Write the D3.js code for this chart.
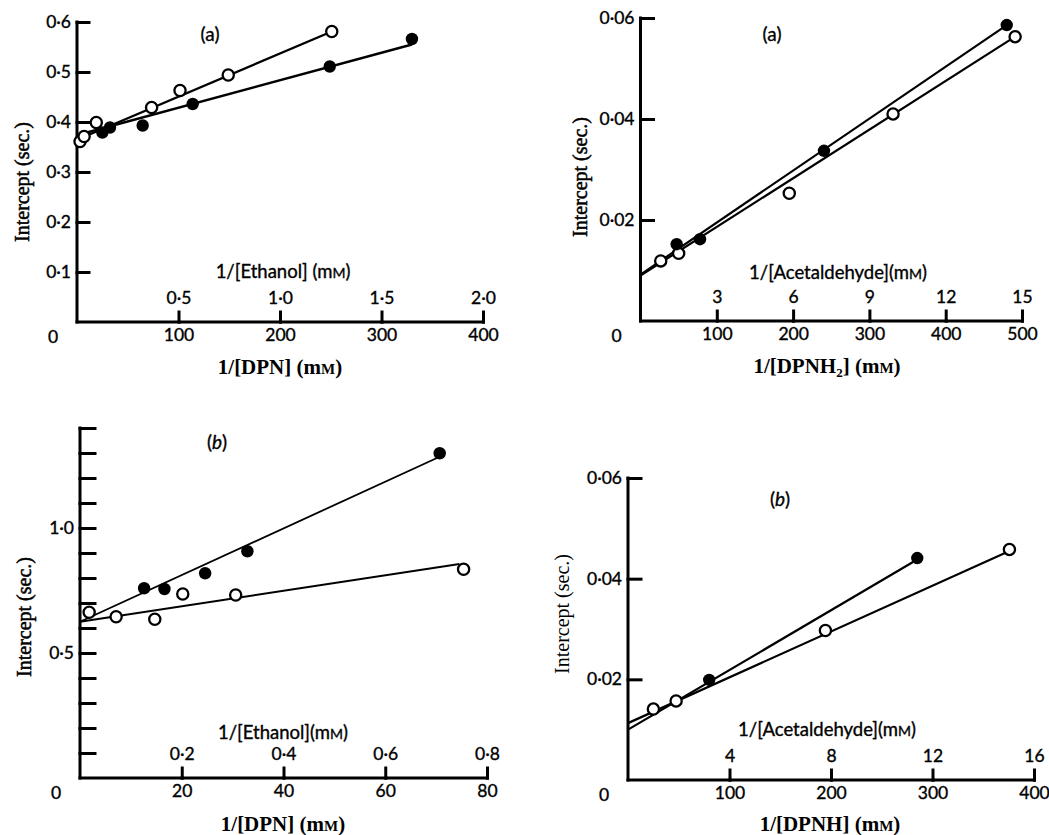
<!DOCTYPE html>
<html>
<head>
<meta charset="utf-8">
<script src="https://cdn.jsdelivr.net/npm/d3@7"></script>
<style>
  html, body { margin: 0; padding: 0; background: #fff; }
  svg { display: block; }
  .sans { font-family: Lato, "Open Sans", "DejaVu Sans", sans-serif; stroke: #000; stroke-width: 0.35px; }
  .serif { font-family: "Liberation Serif", "DejaVu Serif", serif; }
</style>
</head>
<body>
<div id="chart"></div>
<script>
// Panel (a) left: 1/[DPN] vs intercept, ethanol series
const p1Open = [[3,0.361],[7,0.371],[19,0.399],[73.5,0.429],[101.5,0.463],[149,0.494],[251,0.581]];
const p1Filled = [[25,0.379],[32.5,0.389],[64.7,0.393],[114,0.436],[249,0.511],[330,0.566]];
const p1OpenLine = [[3,0.367],[251,0.581]];
const p1FilledLine = [[8,0.378],[330,0.555]];

// Panel (a) right: 1/[DPNH2]
const p2Open = [[26.5,0.0119],[50,0.0134],[195,0.0253],[331,0.0410],[491,0.0563]];
const p2Filled = [[47.4,0.0152],[78,0.0162],[240.5,0.0337],[480,0.0586]];
const p2OpenLine = [[0,0.0090],[491,0.0563]];
const p2FilledLine = [[0,0.0092],[480,0.0586]];

// Panel (b) left: 1/[DPN]
const p3Open = [[1.8,0.663],[7.1,0.645],[14.7,0.635],[20.2,0.736],[30.6,0.732],[75.4,0.835]];
const p3Filled = [[12.6,0.759],[16.6,0.756],[24.6,0.819],[32.9,0.907],[70.7,1.299]];
const p3OpenLine = [[0,0.625],[74.6,0.856]];
const p3FilledLine = [[0,0.625],[70.7,1.285]];

// Panel (b) right: 1/[DPNH]
const p4Open = [[25,0.0141],[47.4,0.0157],[194.5,0.0297],[375.8,0.0458]];
const p4Filled = [[80,0.0199],[285,0.0441]];
const p4OpenLine = [[0,0.0113],[375.8,0.0455]];
const p4FilledLine = [[0,0.0100],[285,0.0438]];

// tick values
const p1YTicks = [0.1,0.2,0.3,0.4,0.5,0.6];
const p1XTicks = [100,200,300,400];
const p1TopTicks = [0.5,1.0,1.5,2.0];
const p2YTicks = [0.02,0.04,0.06];
const p2XTicks = [100,200,300,400,500];
const p2TopTicks = [3,6,9,12,15];
const p3YTicks = d3.range(1,15).map(i => i / 10);
const p3YLabels = [0.5,1.0];
const p3XTicks = [20,40,60,80];
const p3TopTicks = [0.2,0.4,0.6,0.8];
const p4YTicks = [0.02,0.04,0.06];
const p4XTicks = [100,200,300,400];
const p4TopTicks = [4,8,12,16];

const W = 1049, H = 835;
const svg = d3.select('#chart').append('svg').attr('width', W).attr('height', H);

const dot = s => s.replace('.', '·');

function drawPanel(cfg) {
  const x = d3.scaleLinear().domain(cfg.xDomain).range(cfg.xRange);
  const x2 = d3.scaleLinear().domain(cfg.topDomain).range(cfg.xRange);
  const y = d3.scaleLinear().domain(cfg.yDomain).range(cfg.yRange);
  const g = svg.append('g');
  const base = y(0), left = x(0);

  // y axis (ticks point inward)
  const yAxis = d3.axisLeft(y).tickValues(cfg.yTicks).tickSizeInner(-cfg.yTickLen).tickSizeOuter(0).tickPadding(6)
    .tickFormat(v => (!cfg.yLabels || cfg.yLabels.some(l => Math.abs(l - v) < 1e-9)) ? dot(d3.format(cfg.yFmt)(v)) : '');
  const ya = g.append('g').attr('transform', `translate(${left},0)`).call(yAxis);
  ya.select('.domain').attr('d', `M0,${y(cfg.yDomain[1])}V${base}`);

  // x axis (ticks point up, labels below)
  const xAxis = d3.axisBottom(x).tickValues(cfg.xTicks).tickSizeInner(-10).tickSizeOuter(0).tickPadding(7)
    .tickFormat(d3.format('d'));
  const xa = g.append('g').attr('transform', `translate(0,${base})`).call(xAxis);
  xa.select('.domain').attr('d', `M${left},0H${x(cfg.xDomain[1])}`);

  // secondary labels above the same ticks
  const tAxis = d3.axisTop(x2).tickValues(cfg.topTicks).tickSize(0).tickPadding(18)
    .tickFormat(v => dot(d3.format(cfg.topFmt)(v)));
  const ta = g.append('g').attr('transform', `translate(0,${base})`).call(tAxis);
  ta.select('.domain').remove();

  [ya, xa, ta].forEach(a => {
    a.selectAll('.domain, .tick line').attr('stroke', '#000').attr('stroke-width', 3).attr('stroke-linecap', 'square');
    a.selectAll('text').attr('class', 'sans').attr('font-size', 17.5).attr('fill', '#000');
  });

  // origin "0"
  g.append('text').attr('class', 'sans').attr('font-size', 17.5)
    .attr('x', left - 24).attr('y', base + 21).attr('text-anchor', 'middle').text('0');

  // fitted lines
  const line = d3.line().x(d => x(d[0])).y(d => y(d[1]));
  [cfg.openLine, cfg.filledLine].forEach(l => {
    g.append('path').attr('d', line(l)).attr('fill', 'none')
      .attr('stroke', '#000').attr('stroke-width', cfg.lineW);
  });

  // points
  g.selectAll('circle.open').data(cfg.open).join('circle').attr('class', 'open')
    .attr('cx', d => x(d[0])).attr('cy', d => y(d[1])).attr('r', 5.6)
    .attr('fill', '#fff').attr('stroke', '#000').attr('stroke-width', 2.3);
  g.selectAll('circle.filled').data(cfg.filled).join('circle').attr('class', 'filled')
    .attr('cx', d => x(d[0])).attr('cy', d => y(d[1])).attr('r', 6.2)
    .attr('fill', '#000');

  // panel letter
  const pl = g.append('text').attr('class', 'sans').attr('font-size', 19)
    .attr('x', cfg.tag[0]).attr('y', cfg.tag[1]).attr('text-anchor', 'middle');
  pl.append('tspan').text('(');
  pl.append('tspan').attr('font-style', cfg.tagItalic ? 'italic' : 'normal').text(cfg.tagText);
  pl.append('tspan').text(')');

  // y label
  g.append('text').attr('class', 'serif').attr('font-size', 20)
    .attr('stroke', '#000').attr('stroke-width', cfg.yLabelStroke)
    .attr('transform', `translate(${cfg.yLabel[0]},${cfg.yLabel[1]}) rotate(-90)`)
    .attr('text-anchor', 'middle').attr('dy', '0.35em')
    .text('Intercept (sec.)');

  // secondary axis title
  const st = g.append('text').attr('class', 'sans').attr('font-size', 18.5)
    .attr('x', cfg.subTitle[0]).attr('y', cfg.subTitle[1]).attr('text-anchor', 'middle');
  st.append('tspan').text(cfg.subText + '(m');
  st.append('tspan').attr('font-size', 14).text('M');
  st.append('tspan').text(')');

  // main axis title
  const mt = g.append('text').attr('class', 'serif').attr('font-size', 21).attr('font-weight', 'bold')
    .attr('x', cfg.title[0]).attr('y', cfg.title[1]).attr('text-anchor', 'middle');
  mt.append('tspan').text(cfg.titleText);
  if (cfg.titleSub) mt.append('tspan').attr('font-size', 13).attr('dy', 4).text(cfg.titleSub);
  mt.append('tspan').attr('dy', cfg.titleSub ? -4 : 0).text('] (m');
  mt.append('tspan').attr('font-size', 15).text('M');
  mt.append('tspan').text(')');
}

drawPanel({
  xDomain: [0,400], xRange: [77,483], yDomain: [0,0.6], yRange: [322,22],
  topDomain: [0,2], yTicks: p1YTicks, yFmt: '.1f', yTickLen: 12, xTicks: p1XTicks, topTicks: p1TopTicks, topFmt: '.1f',
  open: p1Open, filled: p1Filled, openLine: p1OpenLine, filledLine: p1FilledLine, lineW: 2.4,
  tag: [210,41], tagText: 'a', tagItalic: false, yLabel: [22,182], yLabelStroke: 0.5,
  subTitle: [283,278], subText: '1/[Ethanol] ', title: [280,374], titleText: '1/[DPN'
});
drawPanel({
  xDomain: [0,500], xRange: [640.5,1022], yDomain: [0,0.06], yRange: [321,18],
  topDomain: [0,15], yTicks: p2YTicks, yFmt: '.2f', yTickLen: 13, xTicks: p2XTicks, topTicks: p2TopTicks, topFmt: 'd',
  open: p2Open, filled: p2Filled, openLine: p2OpenLine, filledLine: p2FilledLine, lineW: 2.2,
  tag: [772,41], tagText: 'a', tagItalic: false, yLabel: [580,177], yLabelStroke: 0.5,
  subTitle: [838,279], subText: '1/[Acetaldehyde]', title: [827,373], titleText: '1/[DPNH', titleSub: '2'
});
drawPanel({
  xDomain: [0,80], xRange: [80,487], yDomain: [0,1.4], yRange: [778,428],
  topDomain: [0,0.8], yTicks: p3YTicks, yLabels: p3YLabels, yFmt: '.1f', yTickLen: 15, xTicks: p3XTicks, topTicks: p3TopTicks, topFmt: '.1f',
  open: p3Open, filled: p3Filled, openLine: p3OpenLine, filledLine: p3FilledLine, lineW: 1.8,
  tag: [217,449], tagText: 'b', tagItalic: true, yLabel: [24,617], yLabelStroke: 0.5,
  subTitle: [283,739], subText: '1/[Ethanol]', title: [283,831], titleText: '1/[DPN'
});
drawPanel({
  xDomain: [0,400], xRange: [628,1034], yDomain: [0,0.06], yRange: [780,478],
  topDomain: [0,16], yTicks: p4YTicks, yFmt: '.2f', yTickLen: 13, xTicks: p4XTicks, topTicks: p4TopTicks, topFmt: 'd',
  open: p4Open, filled: p4Filled, openLine: p4OpenLine, filledLine: p4FilledLine, lineW: 2.2,
  tag: [780,506], tagText: 'b', tagItalic: true, yLabel: [562,614], yLabelStroke: 0,
  subTitle: [827,736], subText: '1/[Acetaldehyde]', title: [830,831], titleText: '1/[DPNH'
});
</script>
</body>
</html>
